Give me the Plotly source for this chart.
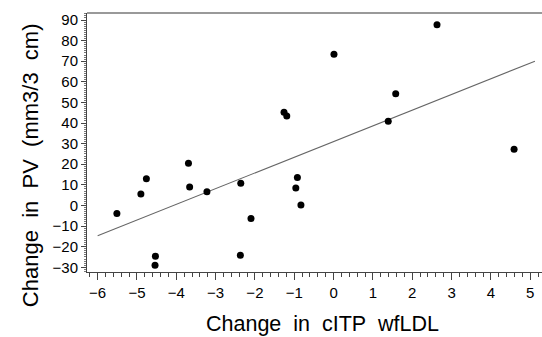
import plotly.graph_objects as go

# Data
x_vals = [-5.51, -4.90, -4.76, -4.53, -4.54, -3.69, -3.66, -3.22, -2.36, -2.10,
          -2.37, -1.26, -1.19, -0.92, -0.96, -0.83, 0.01, 2.63, 1.58, 1.39, 4.59]
y_vals = [-3.9, 5.5, 12.9, -24.7, -29.0, 20.5, 9.0, 6.6, 10.8, -6.3,
          -24.2, 45.2, 43.4, 13.6, 8.5, 0.2, 73.4, 87.7, 54.2, 40.9, 27.3]
line_x = [-6.0, 5.12]
line_y = [-14.7, 70.0]
x_ticks = [-6, -5, -4, -3, -2, -1, 0, 1, 2, 3, 4, 5]
y_ticks = [-30, -20, -10, 0, 10, 20, 30, 40, 50, 60, 70, 80, 90]

SP = "\u00a0\u00a0"
x_title = f"Change{SP}in{SP}cITP{SP}wfLDL"
y_title = f"Change{SP}in{SP}PV{SP}(mm3/3{SP}cm)"

fig = go.Figure()
fig.add_trace(go.Scatter(x=line_x, y=line_y, mode="lines",
                         line=dict(color="#666666", width=1.1), hoverinfo="skip"))
fig.add_trace(go.Scatter(x=x_vals, y=y_vals, mode="markers",
                         marker=dict(color="black", size=7)))

font_family = "Liberation Sans, Arial, sans-serif"
fig.update_layout(
    width=542, height=337,
    margin=dict(l=87, r=0, t=13, b=65),
    paper_bgcolor="white", plot_bgcolor="white",
    showlegend=False,
    font=dict(family=font_family, color="black"),
    xaxis=dict(
        range=[-6.27, 5.30], tickvals=x_ticks, showgrid=False, zeroline=False,
        showline=True, linecolor="#444444", linewidth=1, mirror=False,
        ticks="outside", ticklen=7, tickcolor="#444444", tickwidth=1,
        tickfont=dict(size=15),
        minor=dict(dtick=0.2, tick0=0, ticks="outside", ticklen=4, tickcolor="#444444"),
    ),
    yaxis=dict(
        range=[-32.3, 93.4], tickvals=y_ticks, showgrid=False, zeroline=False,
        showline=True, linecolor="#444444", linewidth=1,
        ticks="outside", ticklen=5, tickcolor="#444444", tickwidth=1,
        tickfont=dict(size=15),
        minor=dict(dtick=1, tick0=0, ticks="outside", ticklen=2, tickcolor="#777777"),
    ),
    shapes=[dict(type="line", xref="paper", yref="paper", x0=0, x1=1, y0=1, y1=1,
                 line=dict(color="#777777", width=1.5))],
    annotations=[
        dict(text=x_title, xref="paper", yref="paper", x=0.5165, y=-0.201,
             xanchor="center", yanchor="middle", showarrow=False,
             font=dict(size=21.5)),
        dict(text=y_title, xref="paper", yref="paper", x=-0.125, y=0.413,
             xanchor="center", yanchor="middle", showarrow=False, textangle=-90,
             font=dict(size=22)),
    ],
)

fig.write_html("out.html")
